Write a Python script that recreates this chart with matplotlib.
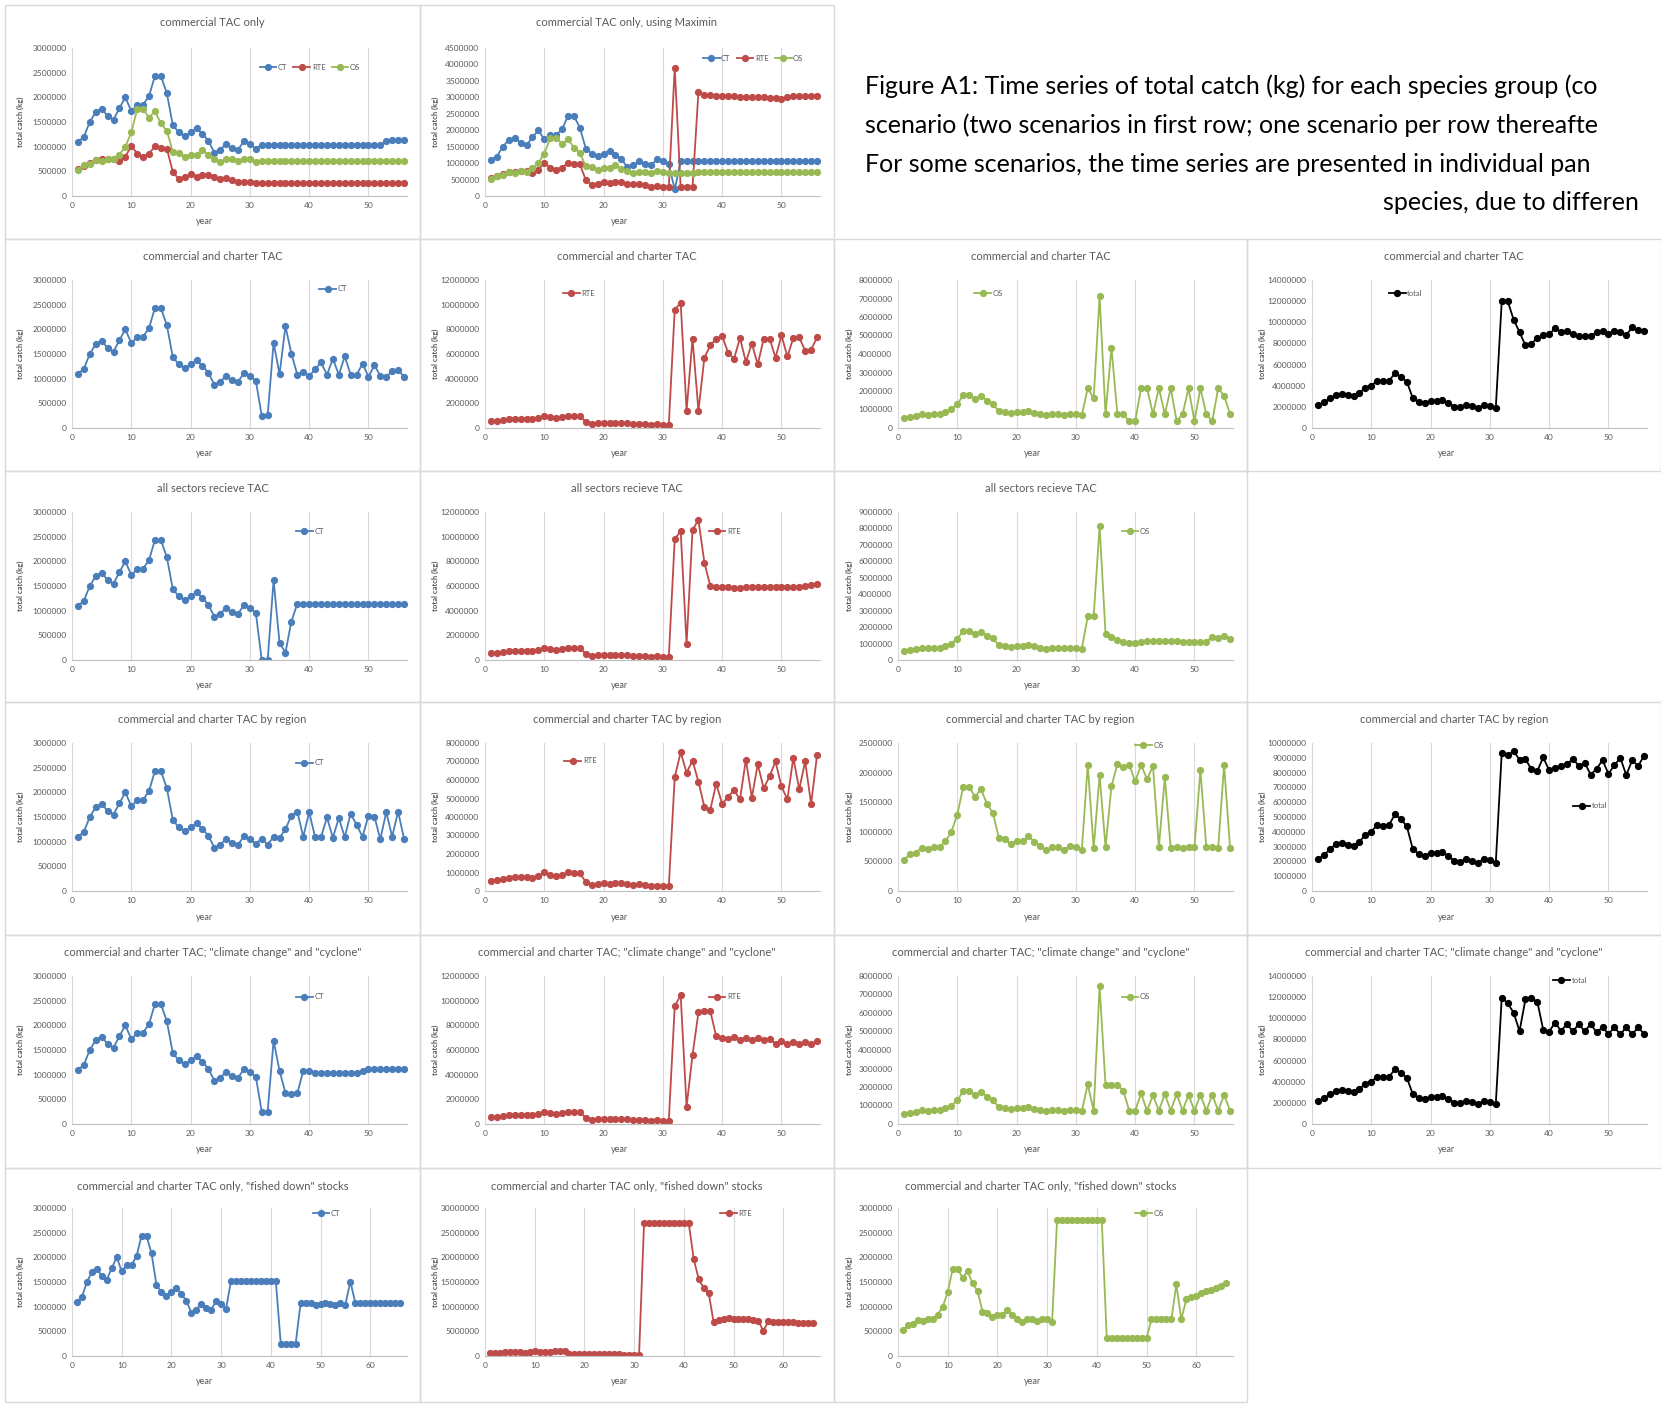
import matplotlib
matplotlib.use("Agg")
from matplotlib import pyplot as plt
from matplotlib.patches import Rectangle

plt.rcParams['font.family'] = ['Lato', 'DejaVu Sans']

# shared history, years 1-31
ct_hist = [1100000, 1200000, 1500000, 1700000, 1770000, 1620000, 1550000, 1780000, 2000000, 1720000,
           1840000, 1850000, 2030000, 2440000, 2430000, 2080000, 1440000, 1290000, 1210000, 1290000,
           1370000, 1260000, 1120000, 880000, 940000, 1060000, 970000, 940000, 1110000, 1050000, 960000]
rte_hist = [540000, 600000, 660000, 720000, 740000, 760000, 760000, 700000, 800000, 1010000,
            860000, 800000, 860000, 1010000, 970000, 960000, 490000, 340000, 380000, 440000,
            390000, 420000, 420000, 380000, 350000, 360000, 330000, 280000, 290000, 280000, 270000]
os_hist = [520000, 620000, 650000, 730000, 710000, 750000, 740000, 840000, 1000000, 1290000,
           1760000, 1760000, 1590000, 1720000, 1470000, 1320000, 900000, 870000, 800000, 840000,
           840000, 930000, 830000, 760000, 690000, 740000, 740000, 700000, 760000, 740000, 690000]
total_hist = [2160000, 2420000, 2810000, 3150000, 3220000, 3130000, 3050000, 3320000, 3800000, 4020000,
              4460000, 4410000, 4480000, 5170000, 4870000, 4360000, 2830000, 2500000, 2390000, 2570000,
              2600000, 2610000, 2370000, 2020000, 1980000, 2160000, 2040000, 1920000, 2160000, 2070000, 1920000]

# projections, years 32-56 (66 for fished down)
ct_com = [1040000] * 21 + [1110000, 1140000, 1140000, 1140000]
rte_com = [270000] * 25
os_com = [710000] * 25

ct_maximin = [200000] + [1050000] * 24
rte_maximin = [3900000, 260000, 260000, 260000, 3170000,
               3060000, 3060000, 3050000, 3050000, 3040000, 3030000, 3020000, 3010000, 3010000, 3000000,
               3000000, 2990000, 2990000, 2950000, 3000000, 3040000, 3040000, 3040000, 3040000, 3040000]
os_maximin = [700000, 700000, 710000, 710000] + [720000] * 4 + [730000] * 17

ct_charter = [250000, 260000, 1730000, 1090000, 2060000, 1510000, 1080000, 1140000, 1050000, 1190000,
              1330000, 1080000, 1400000, 1080000, 1450000, 1080000, 1080000, 1300000, 1040000, 1270000,
              1060000, 1040000, 1150000, 1180000, 1040000]
rte_charter = [9600000, 10150000, 1400000, 7250000, 1400000, 5700000, 6700000, 7250000, 7450000, 6100000,
               5600000, 7300000, 5350000, 6850000, 5150000, 7250000, 7250000, 5700000, 7500000, 5800000,
               7300000, 7350000, 6250000, 6350000, 7350000]
os_charter = [2150000, 1600000, 7130000, 730000, 4350000, 750000, 750000, 370000, 370000, 2150000,
              2150000, 750000, 2150000, 750000, 2150000, 370000, 750000, 2150000, 370000, 2150000,
              750000, 370000, 2150000, 1750000, 750000]
total_charter = [12000000, 12010000, 10260000, 9070000, 7810000, 7960000, 8530000, 8760000, 8870000, 9440000,
                 9080000, 9130000, 8900000, 8680000, 8750000, 8700000, 9080000, 9150000, 8910000, 9220000,
                 9110000, 8760000, 9550000, 9280000, 9140000]

ct_all = [0, 0, 1620000, 350000, 150000, 780000] + [1140000] * 19
rte_all = [9800000, 10450000, 1300000, 10550000, 11350000, 7900000, 6000000, 5950000, 5900000, 5900000,
           5850000, 5850000, 5880000, 5900000, 5900000, 5900000, 5900000, 5900000, 5900000, 5900000,
           5950000, 5920000, 6000000, 6100000, 6150000]
os_all = [2650000, 2650000, 8150000, 1600000, 1420000, 1230000, 1070000, 1010000, 1020000, 1080000,
          1140000, 1180000, 1180000, 1160000, 1150000, 1130000, 1120000, 1110000, 1100000, 1100000,
          1100000, 1420000, 1350000, 1460000, 1280000]

ct_region = [1060000, 940000, 1100000, 1080000, 1250000, 1530000, 1610000, 1100000, 1600000, 1090000,
             1090000, 1490000, 1080000, 1480000, 1090000, 1570000, 1340000, 1100000, 1530000, 1510000,
             1050000, 1600000, 1100000, 1610000, 1060000]
rte_region = [6150000, 7500000, 6400000, 7050000, 5900000, 4550000, 4400000, 5800000, 4700000, 5100000,
              5450000, 4950000, 7100000, 5050000, 6850000, 5550000, 6200000, 7000000, 5650000, 4950000,
              7200000, 5500000, 7000000, 4700000, 7350000]
os_region = [2130000, 720000, 1960000, 740000, 1770000, 2140000, 2100000, 2130000, 1850000, 2130000,
             1890000, 2110000, 740000, 1920000, 720000, 740000, 720000, 740000, 740000, 2040000,
             740000, 740000, 730000, 2130000, 730000]
total_region = [9340000, 9160000, 9460000, 8870000, 8920000, 8220000, 8110000, 9030000, 8150000, 8320000,
                8430000, 8550000, 8920000, 8450000, 8660000, 7860000, 8260000, 8840000, 7920000, 8500000,
                8990000, 7840000, 8830000, 8440000, 9140000]

ct_climate = [250000, 250000, 1690000, 1080000, 630000, 600000, 620000, 1080000, 1080000] \
    + [1040000] * 8 + [1070000] + [1110000] * 7
rte_climate = [9550000, 10450000, 1400000, 5600000, 9050000, 9200000, 9150000, 7100000, 6950000, 6900000,
               7050000, 6850000, 7000000, 6800000, 7000000, 6800000, 6900000, 6500000, 6700000, 6450000,
               6650000, 6450000, 6650000, 6450000, 6700000]
os_climate = [2150000, 720000, 7450000, 2100000, 2100000, 2100000, 1800000, 720000, 720000, 1650000,
              720000, 1550000, 720000, 1620000, 720000, 1620000, 720000, 1580000, 720000, 1580000,
              720000, 1580000, 720000, 1580000, 720000]
total_climate = [11950000, 11420000, 10540000, 8780000, 11780000, 11900000, 11570000, 8900000, 8750000, 9590000,
                 8810000, 9440000, 8760000, 9460000, 8760000, 9460000, 8660000, 9150000, 8530000, 9140000,
                 8480000, 9140000, 8480000, 9140000, 8530000]

ct_fished = [1530000] * 10 + [250000] * 4 + [1080000, 1080000, 1080000, 1040000, 1060000, 1070000,
                                             1050000, 1040000, 1080000, 1040000, 1510000] + [1080000] * 10
rte_fished = [26900000] * 10 + [19600000, 15600000, 13800000, 12800000, 6800000, 7200000, 7600000, 7700000,
                                7600000, 7500000, 7400000, 7400000, 7200000, 7100000, 5100000, 7000000,
                                6900000, 6900000, 6900000, 6800000, 6800000, 6700000, 6700000, 6700000, 6700000]
os_fished = [2750000] * 10 + [360000] * 9 + [740000] * 5 + [1450000, 740000, 1150000, 1190000, 1220000,
                                                           1270000, 1310000, 1340000, 1380000, 1420000, 1470000]

caption = ["Figure A1: Time series of total catch (kg) for each species group (co",
           "scenario (two scenarios in first row; one scenario per row thereafte",
           "For some scenarios, the time series are presented in individual pan",
           "species, due to differen"]

colors = {"CT": "#4a7ebb", "RTE": "#be4b48", "OS": "#98b954", "total": "#000000"}
grey = "#595959"

W, H = 1661, 1404
fig = plt.figure(figsize=(W / 100, H / 100), dpi=100)

cell_x = [5, 420, 834, 1247, 1661]
cell_y = [5, 239, 471, 702, 935, 1168, 1402]
ax_left = [72, 485, 898, 1312]
ax_top = [48, 280, 512, 743, 976, 1208]
ax_w, ax_h = 335, 148


def panel(row, col, title, series, ymax, ystep, leg_xy, ncol=1, nyears=56):
    x0, x1 = cell_x[col], cell_x[col + 1]
    y0, y1 = cell_y[row], cell_y[row + 1]
    fig.patches.append(Rectangle((x0 / W, 1 - y1 / H), (x1 - x0) / W, (y1 - y0) / H,
                                 transform=fig.transFigure, fill=False, ec="#d9d9d9", lw=1))
    ax = fig.add_axes([ax_left[col] / W, 1 - (ax_top[row] + ax_h) / H, ax_w / W, ax_h / H])
    for name, vals in series:
        yrs = list(range(1, len(vals) + 1))
        ax.plot(yrs, vals, color=colors[name], lw=1.3, marker="o", ms=4.2, label=name)
    ax.set_ylim(0, ymax)
    ax.set_xlim(0, 56.5 if nyears == 56 else 67.4)
    yt = list(range(0, ymax + 1, ystep))
    ax.set_yticks(yt)
    ax.set_yticklabels([str(v) for v in yt])
    ax.set_xticks(list(range(0, 51 if nyears == 56 else 61, 10)))
    ax.tick_params(length=0, labelsize=6, labelcolor=grey, pad=4)
    ax.grid(axis="x", color="#d9d9d9", lw=0.8)
    ax.set_axisbelow(True)
    for s in ["top", "right"]:
        ax.spines[s].set_visible(False)
    ax.spines["left"].set_color("#d9d9d9")
    ax.spines["bottom"].set_color("#bfbfbf")
    cx = (x0 + x1) / 2
    fig.text(cx / W, 1 - (y0 + 18) / H, title, ha="center", va="center", fontsize=8, color=grey)
    fig.text((cx - 8) / W, 1 - (ax_top[row] + ax_h + 26) / H, "year", ha="center", va="center",
             fontsize=6.5, color=grey)
    fig.text((x0 + 15) / W, 1 - (ax_top[row] + ax_h / 2) / H, "total catch (kg)", rotation=90,
             ha="center", va="center", fontsize=5.5, color=grey, fontweight="bold")
    ax.legend(loc="center", bbox_to_anchor=leg_xy, ncol=ncol, frameon=False, fontsize=5.5,
              labelcolor=grey, handlelength=2.2, handletextpad=0.2, columnspacing=0.8, borderpad=0)
    return ax


panel(0, 0, "commercial TAC only",
      [("CT", ct_hist + ct_com), ("RTE", rte_hist + rte_com), ("OS", os_hist + os_com)],
      3000000, 500000, (0.71, 0.87), ncol=3)
panel(0, 1, "commercial TAC only, using Maximin",
      [("CT", ct_hist + ct_maximin), ("RTE", rte_hist + rte_maximin), ("OS", os_hist + os_maximin)],
      4500000, 500000, (0.80, 0.93), ncol=3)

t = "commercial and charter TAC"
panel(1, 0, t, [("CT", ct_hist + ct_charter)], 3000000, 500000, (0.78, 0.94))
panel(1, 1, t, [("RTE", rte_hist + rte_charter)], 12000000, 2000000, (0.28, 0.91))
panel(1, 2, t, [("OS", os_hist + os_charter)], 8000000, 1000000, (0.27, 0.91))
panel(1, 3, t, [("total", total_hist + total_charter)], 14000000, 2000000, (0.28, 0.91))

t = "all sectors recieve TAC"
panel(2, 0, t, [("CT", ct_hist + ct_all)], 3000000, 500000, (0.71, 0.87))
panel(2, 1, t, [("RTE", rte_hist + rte_all)], 12000000, 2000000, (0.715, 0.87))
panel(2, 2, t, [("OS", os_hist + os_all)], 9000000, 1000000, (0.71, 0.87))

t = "commercial and charter TAC by region"
panel(3, 0, t, [("CT", ct_hist + ct_region)], 3000000, 500000, (0.71, 0.865))
panel(3, 1, t, [("RTE", rte_hist + rte_region)], 8000000, 1000000, (0.285, 0.88))
panel(3, 2, t, [("OS", os_hist + os_region)], 2500000, 500000, (0.75, 0.985))
panel(3, 3, t, [("total", total_hist + total_region)], 10000000, 1000000, (0.83, 0.575))

t = 'commercial and charter TAC; "climate change" and "cyclone"'
panel(4, 0, t, [("CT", ct_hist + ct_climate)], 3000000, 500000, (0.71, 0.86))
panel(4, 1, t, [("RTE", rte_hist + rte_climate)], 12000000, 2000000, (0.715, 0.86))
panel(4, 2, t, [("OS", os_hist + os_climate)], 8000000, 1000000, (0.71, 0.86))
panel(4, 3, t, [("total", total_hist + total_climate)], 14000000, 2000000, (0.77, 0.97))

t = 'commercial and charter TAC only, "fished down" stocks'
panel(5, 0, t, [("CT", ct_hist + ct_fished)], 3000000, 500000, (0.76, 0.965), nyears=66)
panel(5, 1, t, [("RTE", rte_hist + rte_fished)], 30000000, 5000000, (0.75, 0.965), nyears=66)
panel(5, 2, t, [("OS", os_hist + os_fished)], 3000000, 500000, (0.75, 0.965), nyears=66)

line_y = [86, 125, 164, 203]
for i, line in enumerate(caption):
    x = 865 if i < 3 else 1383
    fig.text(x / W, 1 - line_y[i] / H, line, fontsize=18, va="center", ha="left", color="black")

plt.savefig("out.png", dpi=100)
